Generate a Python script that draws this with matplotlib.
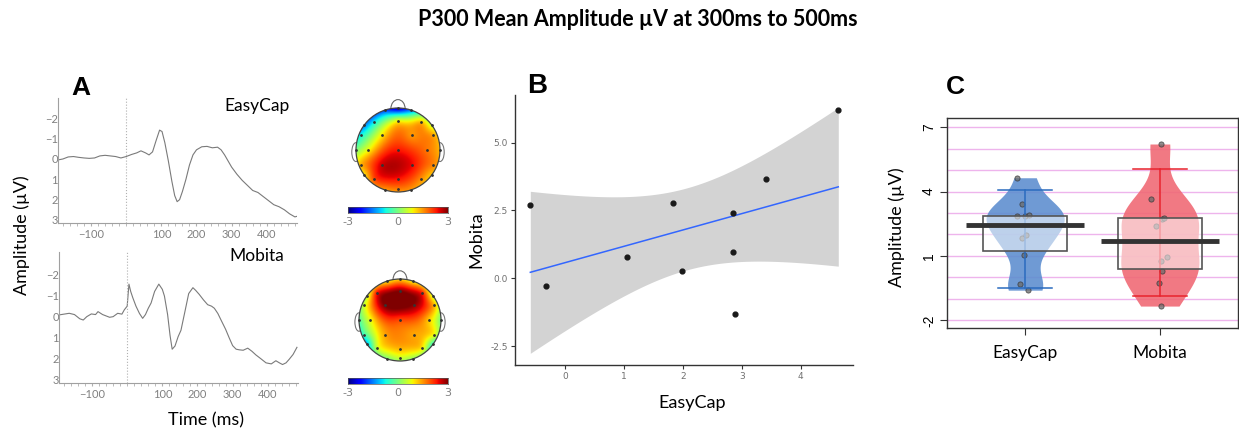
import numpy as np
import matplotlib
matplotlib.use('Agg')
import matplotlib.pyplot as plt
from matplotlib.patches import Circle, Ellipse, Rectangle
from matplotlib.ticker import MultipleLocator

# ---- data ----
# grand average ERP (ms, uV), negative up
t_easy = [-195, -180, -165, -150, -135, -120, -105, -90, -75, -60, -45, -30, -15, 0, 15, 30, 42, 55, 65, 75,
          85, 95, 102, 110, 120, 130, 138, 145, 152, 160, 170, 180, 190, 200, 215, 230, 245, 260, 270, 280,
          290, 300, 315, 330, 345, 360, 375, 390, 405, 420, 435, 450, 465, 480, 490]
v_easy = [0.05, 0.0, -0.1, -0.12, -0.08, -0.05, -0.03, -0.05, -0.15, -0.18, -0.15, -0.12, -0.05, -0.12, -0.22, -0.3, -0.4, -0.3, -0.2, -0.35,
          -0.9, -1.42, -1.35, -0.8, 0.1, 1.1, 1.8, 2.1, 2.0, 1.6, 1.0, 0.3, -0.2, -0.45, -0.6, -0.62, -0.55, -0.58, -0.45, -0.2,
          0.1, 0.4, 0.75, 1.05, 1.3, 1.55, 1.65, 1.85, 2.05, 2.25, 2.35, 2.5, 2.7, 2.85, 2.8]
t_mob = [-195, -180, -165, -150, -135, -125, -115, -102, -90, -83, -70, -50, -40, -27, -15, -8, 0, 5, 10, 16,
         25, 35, 44, 52, 60, 68, 78, 90, 100, 106, 115, 122, 128, 136, 145, 153, 165, 175, 187, 195,
         205, 217, 229, 240, 248, 258, 267, 280, 290, 300, 310, 319, 330, 343, 355, 366, 380, 395, 410, 423,
         433, 442, 452, 461, 472, 483]
v_mob = [-0.08, -0.12, -0.16, -0.1, 0.1, 0.16, 0.0, -0.13, -0.1, -0.24, -0.1, 0.03, 0.0, -0.16, -0.12, -0.33, -0.5, -1.55, -1.2, -0.9,
         -0.5, -0.15, 0.08, -0.1, -0.4, -0.65, -1.2, -1.55, -1.3, -0.98, -0.1, 0.9, 1.55, 1.4, 0.95, 0.65, -0.3, -1.1, -1.38, -1.25,
         -1.06, -0.8, -0.57, -0.5, -0.4, -0.15, 0.16, 0.6, 1.0, 1.38, 1.55, 1.58, 1.6, 1.5, 1.65, 1.82, 2.0, 2.2, 2.25, 2.1,
         2.2, 2.28, 2.2, 2.03, 1.8, 1.46]

# electrode layout (unit head circle) and mean amplitude 300-500ms
elec_x = [-0.31, 0.31, -0.81, 0.81, -1.0, 1.0, -0.81, 0.81, -0.31, 0.31, 0.0,
          -0.57, 0.0, 0.54, -0.89, -0.37, 0.34, 0.84, -0.72, 0.0, 0.70,
          -0.89, -0.37, 0.34, 0.84, -0.57, 0.0, 0.54, 0.0]
elec_y = [0.95, 0.95, 0.59, 0.59, 0.0, 0.0, -0.59, -0.59, -0.95, -0.95, 1.0,
          0.66, 0.70, 0.66, 0.36, 0.36, 0.36, 0.36, 0.0, 0.0, 0.0,
          -0.36, -0.36, -0.36, -0.36, -0.68, -0.70, -0.68, -0.92]
topo_easy = [-1.9, -1.5, -1.5, 0.6, 0.0, 1.3, 1.0, 1.2, 1.5, 1.5, -2.6,
             -0.8, 0.8, 1.3, -0.8, 1.0, 1.5, 1.4, 0.8, 2.3, 1.7,
             1.3, 2.6, 2.4, 1.6, 2.0, 2.3, 1.6, 1.7]
topo_mob = [1.0, 0.9, 0.5, 0.6, -0.3, 0.0, -1.2, -0.5, 0.0, 0.2, 1.1,
            2.3, 3.0, 2.3, 0.5, 3.0, 2.9, 1.3, 0.8, 2.0, 1.2,
            -0.5, 1.4, 1.4, 0.8, 0.5, 1.3, 1.0, 0.6]

# per-subject P300 mean amplitude (uV)
easycap = [-0.59, -0.32, 1.05, 1.84, 1.98, 2.86, 2.86, 2.89, 3.41, 4.64]
mobita = [2.70, -0.27, 0.77, 2.79, 0.28, 2.40, 0.97, -1.33, 3.66, 6.21]
groups = ['EasyCap', 'Mobita']
jit_easy = [0.02, -0.04, -0.01, -0.025, 0.005, -0.06, 0.0, 0.03, -0.02, -0.06]
jit_mob = [0.015, -0.01, 0.01, 0.03, 0.015, -0.025, 0.055, 0.005, -0.065, 0.01]

W, H = 1239, 430
fig = plt.figure(figsize=(W/100, H/100), dpi=100)
SANS = ['Lato', 'DejaVu Sans']

def box(l, t, r, b):
	return [l/W, 1-b/H, (r-l)/W, (b-t)/H]

def ftxt(x, y, s, **kw):
	fig.text(x/W, 1-y/H, s, ha='center', va='center', **kw)

ftxt(638, 20, 'P300 Mean Amplitude µV at 300ms to 500ms', family=SANS, weight='bold', fontsize=15.5)

# ---- panel A: ERPs ----
for rect, t, v, lab, ly, yl in [((58, 98, 297, 223), t_easy, v_easy, 'EasyCap', 106, (3.15, -3.0)),
                                 ((59, 252, 298, 383), t_mob, v_mob, 'Mobita', 256, (3.16, -3.08))]:
	ax = fig.add_axes(box(*rect))
	ax.plot(t, v, color='#7a7a7a', lw=0.8)
	ax.axvline(0, color='#b0b0b0', lw=0.8, ls=':')
	ax.set_xlim(-194, 486)
	ax.set_ylim(*yl)
	for s in ['top', 'right']:
		ax.spines[s].set_visible(False)
	for s in ['left', 'bottom']:
		ax.spines[s].set_color('#a0a0a0')
		ax.spines[s].set_linewidth(0.8)
	ax.set_yticks([-2, -1, 0, 1, 2, 3])
	ax.set_xticks([-100, 100, 200, 300, 400])
	ax.xaxis.set_minor_locator(MultipleLocator(20))
	ax.tick_params(axis='y', length=0, pad=0, labelsize=8, labelcolor='#808080')
	ax.tick_params(axis='x', which='both', length=2, color='#b0b0b0', pad=2, labelsize=8, labelcolor='#808080')
	for tl in ax.get_xticklabels() + ax.get_yticklabels():
		tl.set_family(SANS)
	ax.patch.set_alpha(0)
	ftxt(257, ly, lab, family=SANS, fontsize=12.5)

fig.text(22/W, 1-235/H, 'Amplitude (µV)', rotation=90, ha='center', va='center', family=SANS, fontsize=13)
ftxt(206, 420, 'Time (ms)', family=SANS, fontsize=13)
ftxt(81, 88, 'A', family='Liberation Sans', weight='bold', fontsize=19)

# ---- topographies ----
ex = np.array(elec_x)
ey = np.array(elec_y)

def tps(vals, gx, gy):
	n = len(ex)
	d = np.hypot(ex[:, None]-ex[None, :], ey[:, None]-ey[None, :])
	K = np.where(d > 0, d**2*np.log(d+1e-12), 0)
	P = np.column_stack([np.ones(n), ex, ey])
	A = np.block([[K, P], [P.T, np.zeros((3, 3))]])
	w = np.linalg.solve(A, np.concatenate([vals, np.zeros(3)]))
	r = np.hypot(gx.ravel()[:, None]-ex[None, :], gy.ravel()[:, None]-ey[None, :])
	Kg = np.where(r > 0, r**2*np.log(r+1e-12), 0)
	z = Kg @ w[:n] + w[n] + w[n+1]*gx.ravel() + w[n+2]*gy.ravel()
	return z.reshape(gx.shape)

gx, gy = np.meshgrid(np.linspace(-1, 1, 201), np.linspace(-1, 1, 201))
for (cx, cy, R), vals, cb in [((398, 150, 42), topo_easy, (348, 207, 448, 213)),
                               ((400, 320, 41), topo_mob, (348, 378, 448, 384))]:
	ax = fig.add_axes(box(cx-50, cy-55, cx+50, cy+50))
	z = np.clip(tps(np.array(vals), gx, gy), -3, 3)
	im = ax.imshow(z, extent=[-1, 1, -1, 1], origin='lower', cmap='jet', vmin=-3, vmax=3, zorder=2, interpolation='bilinear')
	head = Circle((0, 0), 1, fill=False, ec='#444', lw=0.9, zorder=3)
	ax.add_patch(head)
	im.set_clip_path(head)
	ax.add_patch(Ellipse((0, 0.98), 0.34, 0.44, fill=False, ec='#666', lw=0.8, zorder=1))
	for s in (-1, 1):
		ax.add_patch(Ellipse((s*1.0, -0.05), 0.2, 0.45, fill=False, ec='#777', lw=0.8, zorder=1))
	ax.plot(ex, ey, '.', color='#333', ms=2, zorder=4)
	ax.set_xlim(-50/R, 50/R)
	ax.set_ylim(-50/R, 55/R)
	ax.axis('off')
	cax = fig.add_axes(box(*cb))
	cax.imshow(np.linspace(-3, 3, 256)[None, :], cmap='jet', aspect='auto', extent=[-3, 3, 0, 1])
	cax.set_yticks([])
	cax.set_xticks([-3, 0, 3])
	cax.set_xticklabels(['-3', '0', '3'])
	cax.tick_params(length=0, pad=3, labelsize=8, labelcolor='#808080')
	for s in cax.spines.values():
		s.set_linewidth(0.5)
		s.set_color('#555')

# ---- panel B: correlation ----
axb = fig.add_axes(box(515, 95, 853, 365))
xe = np.array(easycap)
ym = np.array(mobita)
n = len(xe)
b1, b0 = np.polyfit(xe, ym, 1)
res = ym - (b0 + b1*xe)
s = np.sqrt(np.sum(res**2)/(n-2))
sxx = np.sum((xe-xe.mean())**2)
xf = np.linspace(xe.min(), xe.max(), 100)
yf = b0 + b1*xf
se = s*np.sqrt(1/n + (xf-xe.mean())**2/sxx)
tcrit = 2.306  # t(0.975, df=8)
axb.fill_between(xf, yf-tcrit*se, yf+tcrit*se, color='#d3d3d3', lw=0, zorder=1)
axb.plot(xf, yf, color='#3366FF', lw=1.1, zorder=2)
axb.scatter(xe, ym, s=12, color='#1a1a1a', zorder=3)
axb.set_xlim(-0.85, 4.89)
axb.set_ylim(-3.2, 6.76)
axb.set_xticks([0, 1, 2, 3, 4])
axb.set_yticks([-2.5, 0, 2.5, 5.0])
axb.set_yticklabels(['-2.5', '0.0', '2.5', '5.0'])
for sp in ['top', 'right']:
	axb.spines[sp].set_visible(False)
for sp in ['left', 'bottom']:
	axb.spines[sp].set_color('#333')
	axb.spines[sp].set_linewidth(1.0)
axb.tick_params(length=3, color='#333', labelsize=6.5, labelcolor='#707070', pad=2)
ftxt(692, 403, 'EasyCap', family=SANS, fontsize=13)
fig.text(476/W, 1-240/H, 'Mobita', rotation=90, ha='center', va='center', family=SANS, fontsize=13)
ftxt(537, 86, 'B', family='Liberation Sans', weight='bold', fontsize=20)

# ---- panel C: pirate plot ----
axc = fig.add_axes(box(947, 118, 1238, 328))
for v in range(-2, 8):
	axc.axhline(v, color='#eeb4ec', lw=1.0, zorder=0)
for i, (vals, jit, fillc, linec) in enumerate([(easycap, jit_easy, '#5f8fd0', '#2a6bbf'),
                                               (mobita, jit_mob, '#f06a76', '#e8232d')]):
	pos = i + 1
	y = np.array(vals)
	q1, med, q3 = np.percentile(y, [25, 50, 75])
	lo, hi = np.percentile(y, [5, 95])
	bw = 0.9*min(y.std(ddof=1), (q3-q1)/1.34)*len(y)**-0.2
	ys = np.linspace(y.min(), y.max(), 200)
	dens = np.exp(-0.5*((ys[:, None]-y[None, :])/bw)**2).sum(axis=1)
	hw = dens/dens.max()*0.29
	axc.fill_betweenx(ys, pos-hw, pos+hw, color=fillc, alpha=0.9, lw=0, zorder=2)
	axc.scatter(pos+np.array(jit), y, s=14, facecolor='#6a6a6a', edgecolor='#333', lw=0.6, alpha=0.75, zorder=3)
	axc.plot([pos, pos], [lo, hi], color=linec, lw=1.1, zorder=3.5)
	axc.add_patch(Rectangle((pos-0.31, q1), 0.62, q3-q1, fc='white', alpha=0.55, lw=0, zorder=4))
	axc.add_patch(Rectangle((pos-0.31, q1), 0.62, q3-q1, fill=False, ec='#555', lw=1.2, zorder=5))
	for yy in (lo, hi):
		axc.plot([pos-0.2, pos+0.2], [yy, yy], color=linec, lw=1.1, zorder=5)
	axc.plot([pos-0.44, pos+0.44], [med, med], color='#333', lw=3.5, zorder=6, solid_capstyle='butt')
axc.set_xlim(0.42, 2.58)
axc.set_ylim(-2.35, 7.42)
axc.set_xticks([1, 2])
axc.set_xticklabels(groups, family=SANS, fontsize=12.5)
axc.set_yticks([-2, 1, 4, 7])
axc.set_yticklabels(['-2', '1', '4', '7'], rotation=90, va='center', family='Liberation Sans', fontsize=10)
axc.tick_params(length=5, color='#333', pad=3)
axc.tick_params(axis='x', pad=7)
for sp in axc.spines.values():
	sp.set_color('#333')
	sp.set_linewidth(1.0)
fig.text(897/W, 1-227/H, 'Amplitude (µV)', rotation=90, ha='center', va='center', family=SANS, fontsize=13)
ftxt(955, 87, 'C', family='Liberation Sans', weight='bold', fontsize=19)

plt.savefig('out.png', dpi=100)
